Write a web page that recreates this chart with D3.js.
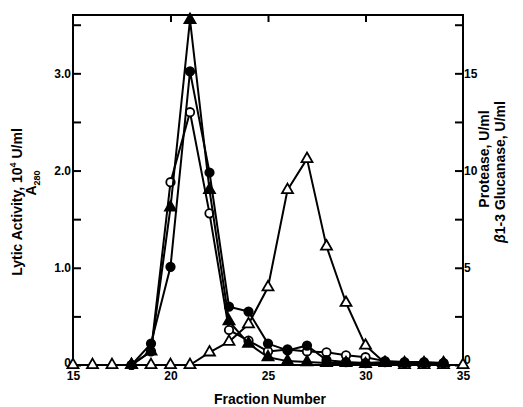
<!DOCTYPE html>
<html>
<head>
<meta charset="utf-8">
<script src="https://cdn.jsdelivr.net/npm/d3@7"></script>
<style>
  body { margin: 0; background: #fff; }
  svg { font-family: "Liberation Sans", Arial, sans-serif; font-weight: bold; }
  .frame, .tick line { stroke: #000; stroke-width: 2; fill: none; }
  .series__line { fill: none; stroke: #000; stroke-width: 2; stroke-linejoin: round; }
  .series__marker { stroke: #000; stroke-width: 1.8; }
  .tick text { font-size: 12px; }
  .label { font-size: 14px; }
</style>
</head>
<body>
<div id="chart"></div>
<script>
// fraction numbers
const fractions = d3.range(15, 36);
const circleFractions = d3.range(18, 35);

// left axis (10^4 U/ml, A280), fractions 18-34
const lytic = [0, 0.22, 1.01, 3.02, 1.98, 0.6, 0.55, 0.22, 0.15, 0.2, 0.05, 0.03, 0.02, 0.03, 0.02, 0.02, 0.02];
const peakTri = [0, 0.14, 1.62, 3.55, 1.8, 0.45, 0.22, 0.08, 0.04, 0.03, 0.02, 0.02, 0.01, 0.02, 0.02, 0.02, 0.02];
const a280 = [0, 0.14, 1.88, 2.6, 1.56, 0.36, 0.25, 0.14, 0.16, 0.14, 0.13, 0.1, 0.08, 0.04, 0.03, 0.03, 0.02];

// right axis (U/ml), fractions 15-35
const glucanase = [0, 0, 0, 0, 0, 0, 0, 0.65, 1.2, 2.1, 4.0, 9.0, 10.6, 6.1, 3.2, 1.0, 0.1, 0, 0, 0, 0];

const leftTicks = [0, 0.5, 1, 1.5, 2, 2.5, 3, 3.5];
const leftLabels = new Map([[0, "0"], [1, "1.0"], [2, "2.0"], [3, "3.0"]]);
const rightTicks = [0, 2.5, 5, 7.5, 10, 12.5, 15, 17.5];
const rightLabels = new Map([[0, "0"], [5, "5"], [10, "10"], [15, "15"]]);
const xTicks = [15, 20, 25, 30, 35];

const width = 523;
const height = 407;
const plotLeft = 73, plotRight = 463, plotTop = 15, plotBottom = 365;

const x = d3.scaleLinear().domain([15, 35]).range([plotLeft, plotRight]);
const y = d3.scaleLinear().domain([0, 3.6]).range([plotBottom, plotTop]);
const yR = d3.scaleLinear().domain([0, 18]).range([plotBottom, plotTop]);

const svg = d3.select("#chart").append("svg")
  .attr("width", width).attr("height", height)
  .attr("viewBox", [0, 0, width, height]);

// axes, ticks pointing inward
svg.append("g")
  .attr("transform", `translate(${plotLeft},0)`)
  .call(d3.axisLeft(y).tickValues(leftTicks).tickSizeInner(-8).tickSizeOuter(0).tickPadding(2)
    .tickFormat((d) => leftLabels.get(d) || ""))
  .call((g) => g.select(".domain").remove())
  .call((g) => g.selectAll(".tick text").filter((d) => d === 0).attr("dy", "0.1em"));

svg.append("g")
  .attr("transform", `translate(${plotRight},0)`)
  .call(d3.axisRight(yR).tickValues(rightTicks).tickSizeInner(-8).tickSizeOuter(0).tickPadding(1)
    .tickFormat((d) => rightLabels.get(d) || ""))
  .call((g) => g.select(".domain").remove())
  .call((g) => g.selectAll(".tick text").filter((d) => d === 0).attr("dy", "-0.1em"));

svg.append("g")
  .attr("transform", `translate(0,${plotBottom})`)
  .call(d3.axisBottom(x).tickValues(xTicks).tickSizeInner(0).tickSizeOuter(0).tickPadding(6))
  .call((g) => g.select(".domain").remove());

svg.append("g")
  .attr("transform", `translate(0,${plotTop})`)
  .call(d3.axisTop(x).tickValues([20, 25, 30]).tickSizeInner(-7).tickSizeOuter(0).tickFormat(""))
  .call((g) => g.select(".domain").remove());

svg.append("rect")
  .attr("class", "frame")
  .attr("x", plotLeft).attr("y", plotTop)
  .attr("width", plotRight - plotLeft).attr("height", plotBottom - plotTop);

const line = d3.line();

function drawSeries(xs, values, yScale, marker, fill) {
  const pts = xs.map((f, i) => [x(f), yScale(values[i])]);
  const g = svg.append("g").attr("class", "series");
  g.append("path").attr("class", "series__line").attr("d", line(pts));
  const sym = marker === "triangle"
    ? d3.symbol(d3.symbolTriangle, 52)
    : d3.symbol(d3.symbolCircle, 56);
  g.selectAll(".series__marker")
    .data(pts)
    .join("path")
    .attr("class", "series__marker")
    .attr("transform", (d) => `translate(${d})`)
    .attr("d", sym)
    .attr("fill", fill);
}

drawSeries(fractions, glucanase, yR, "triangle", "#fff");
drawSeries(circleFractions, a280, y, "circle", "#fff");
drawSeries(circleFractions, peakTri, y, "triangle", "#000");
drawSeries(circleFractions, lytic, y, "circle", "#000");

// axis titles
const lt = svg.append("text").attr("class", "label")
  .attr("transform", "translate(22,202) rotate(-90)")
  .attr("text-anchor", "middle");
lt.append("tspan").text("Lytic Activity, 10");
lt.append("tspan").attr("font-size", 9).attr("dy", -6).text("4");
lt.append("tspan").attr("dy", 6).text(" U/ml");

const at = svg.append("text").attr("class", "label")
  .attr("transform", "translate(36,183) rotate(-90)")
  .attr("text-anchor", "middle");
at.append("tspan").text("A");
at.append("tspan").attr("font-size", 9).attr("dy", 4).text("280");

svg.append("text").attr("class", "label")
  .attr("transform", "translate(489,159) rotate(-90)")
  .attr("text-anchor", "middle")
  .text("Protease, U/ml");

const gl = svg.append("text").attr("class", "label")
  .attr("transform", "translate(505,172) rotate(-90)")
  .attr("text-anchor", "middle");
gl.append("tspan").attr("font-style", "italic").text("\u03B2");
gl.append("tspan").text("1-3 Glucanase, U/ml");

svg.append("text").attr("class", "label")
  .attr("x", 270).attr("y", 404)
  .attr("text-anchor", "middle")
  .attr("font-size", 15)
  .text("Fraction Number");
</script>
</body>
</html>
